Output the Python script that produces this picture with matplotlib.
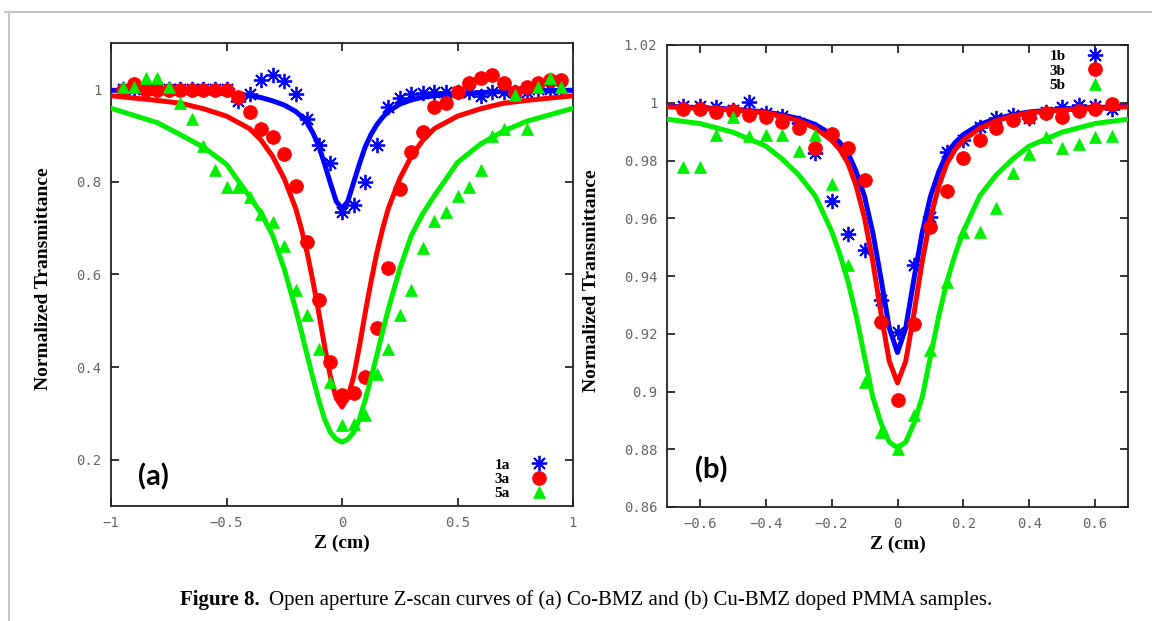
import matplotlib
matplotlib.use("Agg")
import matplotlib.pyplot as plt
from matplotlib.lines import Line2D
from matplotlib.ticker import FixedLocator, FixedFormatter

# ---- data: panel (a), Co-BMZ -----------------------------------------------
za = [round(-0.95 + 0.05 * i, 2) for i in range(39)]
t1a = [1.0, 1.0, 1.0, 1.0, 1.0, 1.0, 1.0, 1.0, 1.0, 1.0, 0.975, 0.99, 1.02,
       1.03, 1.018, 0.99, 0.935, 0.88, 0.84, 0.735, 0.75, 0.80, 0.88, 0.962,
       0.982, 0.99, 0.992, 0.995, 0.995, 0.995, 0.995, 0.985, 0.995, 0.995,
       0.995, 0.995, 1.0, 1.0, 1.0]
t3a = [0.998, 1.012, 0.998, 0.998, 0.998, 0.998, 0.998, 0.998, 0.998, 0.998,
       0.984, 0.952, 0.915, 0.897, 0.861, 0.792, 0.67, 0.546, 0.412, 0.34,
       0.343, 0.379, 0.484, 0.615, 0.785, 0.865, 0.908, 0.962, 0.97, 0.995,
       1.013, 1.024, 1.031, 1.013, 0.995, 1.006, 1.013, 1.02, 1.02]
t5a = [1.006, 1.006, 1.025, 1.025, 1.006, 0.97, 0.935, 0.878, 0.825, 0.788,
       0.788, 0.767, 0.73, 0.714, 0.662, 0.567, 0.513, 0.44, 0.368, 0.274,
       0.277, 0.296, 0.386, 0.44, 0.513, 0.567, 0.658, 0.716, 0.734, 0.77,
       0.788, 0.825, 0.9, 0.915, 0.988, 0.915, 1.006, 1.025, 1.006]

# fit curves (a)
fza = [-1.0, -0.8, -0.7, -0.6, -0.5, -0.4, -0.35, -0.3, -0.25, -0.2, -0.175,
       -0.15, -0.125, -0.1, -0.075, -0.05, -0.025, 0.0, 0.025, 0.05, 0.075,
       0.1, 0.125, 0.15, 0.175, 0.2, 0.25, 0.3, 0.35, 0.4, 0.5, 0.6, 0.7,
       0.8, 1.0]
f1a = [0.998, 0.996, 0.995, 0.993, 0.991, 0.987, 0.982, 0.975, 0.966, 0.952,
       0.941, 0.927, 0.905, 0.877, 0.838, 0.797, 0.758, 0.742, 0.758, 0.798,
       0.838, 0.875, 0.902, 0.923, 0.939, 0.952, 0.968, 0.977, 0.983, 0.986,
       0.991, 0.993, 0.995, 0.996, 0.998]
f3a = [0.986, 0.976, 0.970, 0.958, 0.942, 0.915, 0.89, 0.855, 0.807, 0.742,
       0.697, 0.645, 0.583, 0.516, 0.444, 0.379, 0.333, 0.314, 0.333, 0.379,
       0.444, 0.516, 0.583, 0.645, 0.697, 0.742, 0.807, 0.855, 0.89, 0.915,
       0.942, 0.958, 0.970, 0.976, 0.986]
f5a = [0.959, 0.928, 0.902, 0.875, 0.838, 0.768, 0.732, 0.684, 0.612, 0.524,
       0.475, 0.424, 0.375, 0.328, 0.287, 0.259, 0.244, 0.238, 0.244, 0.259,
       0.287, 0.328, 0.375, 0.424, 0.475, 0.524, 0.612, 0.684, 0.732, 0.77,
       0.842, 0.882, 0.91, 0.931, 0.959]

# ---- data: panel (b), Cu-BMZ -----------------------------------------------
zb = [round(-0.65 + 0.05 * i, 2) for i in range(27)]
t1b = [0.999, 0.999, 0.9984, 0.9975, 1.0003, 0.9965, 0.9954, 0.9931, 0.9827,
       0.966, 0.9547, 0.949, 0.9316, 0.9206, 0.9437, 0.9605, 0.983, 0.987,
       0.9917, 0.9946, 0.9957, 0.9946, 0.9969, 0.9984, 0.9992, 0.9989, 0.9977]
t3b = [0.9977, 0.9977, 0.9969, 0.9972, 0.9957, 0.9949, 0.9934, 0.9911, 0.9842,
       0.9892, 0.9842, 0.9734, 0.9241, 0.897, 0.9235, 0.957, 0.9695, 0.9807,
       0.987, 0.9911, 0.994, 0.9949, 0.9963, 0.9949, 0.9972, 0.998, 0.9995]
t5b = [0.9778, 0.9778, 0.9888, 0.9949, 0.9885, 0.9888, 0.9888, 0.9834, 0.9888,
       0.9718, 0.9437, 0.9033, 0.886, 0.8802, 0.8917, 0.9143, 0.938, 0.9553,
       0.9553, 0.9634, 0.9755, 0.9822, 0.988, 0.9842, 0.9857, 0.988, 0.9885]

fzb = [-0.7, -0.6, -0.5, -0.4, -0.35, -0.3, -0.25, -0.2, -0.175, -0.15,
       -0.125, -0.1, -0.075, -0.05, -0.025, 0.0, 0.025, 0.05, 0.075, 0.1,
       0.125, 0.15, 0.175, 0.2, 0.25, 0.3, 0.35, 0.4, 0.5, 0.6, 0.7]
f1b = [0.9988, 0.9983, 0.9978, 0.9968, 0.9958, 0.9945, 0.9925, 0.989, 0.9862,
       0.9825, 0.976, 0.9675, 0.955, 0.939, 0.922, 0.9135, 0.922, 0.939, 0.955,
       0.9675, 0.976, 0.9825, 0.9862, 0.989, 0.9925, 0.9945, 0.9958, 0.9968,
       0.9978, 0.9983, 0.9988]
f3b = [0.9986, 0.9981, 0.9975, 0.9965, 0.9954, 0.9938, 0.9912, 0.987, 0.9838,
       0.979, 0.971, 0.96, 0.945, 0.927, 0.9105, 0.903, 0.9105, 0.927, 0.945,
       0.96, 0.971, 0.979, 0.9838, 0.987, 0.9912, 0.9938, 0.9954, 0.9965,
       0.9975, 0.9981, 0.9986]
f5b = [0.9943, 0.9928, 0.9898, 0.985, 0.9805, 0.975, 0.9678, 0.9555, 0.9475,
       0.938, 0.926, 0.912, 0.898, 0.889, 0.8825, 0.8805, 0.8825, 0.889, 0.898,
       0.912, 0.926, 0.938, 0.9475, 0.9555, 0.9678, 0.975, 0.9805, 0.985,
       0.9898, 0.9928, 0.9943]

xticks_a = [-1, -0.5, 0, 0.5, 1]
xlabels_a = ["\u22121", "\u22120.5", "0", "0.5", "1"]
yticks_a = [0.2, 0.4, 0.6, 0.8, 1.0]
ylabels_a = ["0.2", "0.4", "0.6", "0.8", "1"]
xticks_b = [-0.6, -0.4, -0.2, 0, 0.2, 0.4, 0.6]
xlabels_b = ["\u22120.6", "\u22120.4", "\u22120.2", "0", "0.2", "0.4", "0.6"]
yticks_b = [0.86, 0.88, 0.90, 0.92, 0.94, 0.96, 0.98, 1.0, 1.02]
ylabels_b = ["0.86", "0.88", "0.9", "0.92", "0.94", "0.96", "0.98", "1", "1.02"]

BLUE, RED, GREEN = "#0000ff", "#ff0000", "#00ee00"
ASTER = (8, 2, 0)
SERIF = "Liberation Serif"

fig = plt.figure(figsize=(11.52, 6.21), dpi=100)
ax_a = fig.add_axes([111 / 1152, 1 - 506 / 621, 462 / 1152, 463 / 621])
ax_b = fig.add_axes([667 / 1152, 1 - 507 / 621, 461 / 1152, 462 / 621])


def panel(ax, z, pts, fz, fits, xt, xl, yt, yl, xlim, ylim):
    styles = [(BLUE, ASTER, 11, 1.3), (RED, "o", 10, 0), (GREEN, "^", 9, 0)]
    handles = []
    for (col, mk, ms, mew), p, f in zip(styles, pts, fits):
        h, = ax.plot(z, p, ls="none", marker=mk, ms=ms, color=col,
                     mec=col, mew=mew if mew else 0.5, clip_on=False, zorder=3)
        ax.plot(fz, f, color=col, lw=3.6, solid_joinstyle="round", zorder=3)
        handles.append(h)
    ax.set_xlim(*xlim)
    ax.set_ylim(*ylim)
    ax.xaxis.set_major_locator(FixedLocator(xt))
    ax.xaxis.set_major_formatter(FixedFormatter(xl))
    ax.yaxis.set_major_locator(FixedLocator(yt))
    ax.yaxis.set_major_formatter(FixedFormatter(yl))
    ax.tick_params(direction="in", length=6, width=1.1, top=True, right=True,
                   labelsize=10, labelcolor="#666666", pad=7)
    for lab in ax.get_xticklabels() + ax.get_yticklabels():
        lab.set_family("DejaVu Sans Mono")
    for s in ax.spines.values():
        s.set_linewidth(1.3)
        s.set_color("#222222")
    ax.set_xlabel("Z (cm)", family=SERIF, weight="bold", fontsize=14)
    ax.set_ylabel("Normalized Transmittance", family=SERIF, weight="bold",
                  fontsize=14)
    ax.xaxis.set_label_coords(0.5, -0.063)
    return handles


ha = panel(ax_a, za, [t1a, t3a, t5a], fza, [f1a, f3a, f5a],
           xticks_a, xlabels_a, yticks_a, ylabels_a, (-1, 1), (0.1, 1.1))
hb = panel(ax_b, zb, [t1b, t3b, t5b], fzb, [f1b, f3b, f5b],
           xticks_b, xlabels_b, yticks_b, ylabels_b, (-0.7, 0.7), (0.86, 1.02))
ax_a.yaxis.set_label_coords(-0.128, 0.49)
ax_b.yaxis.set_label_coords(-0.145, 0.49)

leg_font = {"family": SERIF, "weight": "bold", "size": 11}
ax_a.legend(ha, ["1a", "3a", "5a"], markerfirst=False, frameon=False,
            prop=leg_font, handlelength=1.0, handletextpad=1.4,
            labelspacing=0.05, borderpad=0, borderaxespad=0,
            loc="lower left", bbox_to_anchor=(0.83, 0.012))
ax_b.legend(hb, ["1b", "3b", "5b"], markerfirst=False, frameon=False,
            prop=leg_font, handlelength=1.0, handletextpad=1.4,
            labelspacing=0.05, borderpad=0, borderaxespad=0,
            loc="upper left", bbox_to_anchor=(0.83, 0.99))

ax_a.text(0.091, 0.062, "(a)", transform=ax_a.transAxes, ha="center",
          va="center", family="Lato", weight="bold", fontsize=21)
ax_b.text(0.097, 0.08, "(b)", transform=ax_b.transAxes, ha="center",
          va="center", family="Lato", weight="bold", fontsize=21)

# page frame of the journal screenshot
fig.add_artist(Line2D([5 / 1152, 1], [1 - 12 / 621] * 2,
                      transform=fig.transFigure, color="#c4c4c4", lw=1.5))
fig.add_artist(Line2D([8.5 / 1152] * 2, [0, 1 - 12 / 621],
                      transform=fig.transFigure, color="#c4c4c4", lw=1.5))

# caption
cy = 1 - 600 / 621
t1 = fig.text(180 / 1152, cy, "Figure 8.", family=SERIF, weight="bold",
              fontsize=15.0, va="center", ha="left")
r = fig.canvas.get_renderer()
bb = t1.get_window_extent(renderer=r)
fig.text((bb.x1 + 9) / 1152, cy,
         "Open aperture Z-scan curves of (a) Co-BMZ and (b) Cu-BMZ doped PMMA samples.",
         family=SERIF, fontsize=15.0, va="center", ha="left")

fig.savefig("out.png", dpi=100)
